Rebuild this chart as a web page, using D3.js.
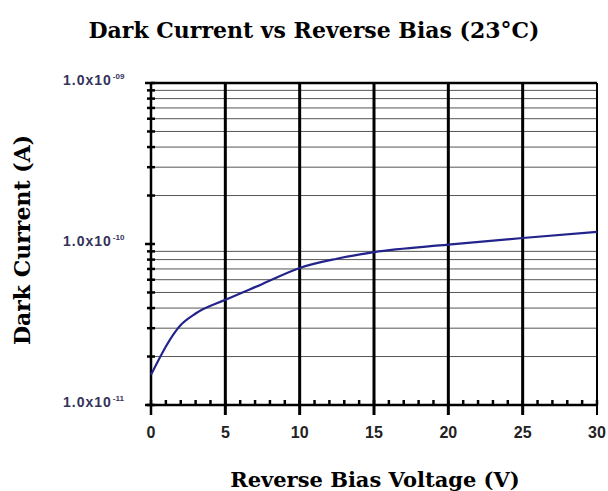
<!DOCTYPE html>
<meta charset="utf-8">
<style>
body { margin: 0; background: #fff; }
.title { font: bold 22px "DejaVu Serif", serif; }
.axlabel { font: bold 21px "DejaVu Serif", serif; }
.xtick text { font: bold 16px "Liberation Sans", Arial, sans-serif; fill: #222; }
.ytick text { font: bold 14px "Liberation Sans", Arial, sans-serif; fill: #33335a; letter-spacing: 1px; }
</style>
<svg width="608" height="491"></svg>
<script src="https://d3js.org/d3.v7.min.js"></script>
<script>

// bias voltage (V) and dark current (A)
var voltage = [0, 2, 3, 5, 7.5, 10, 12.5, 15, 20, 25, 30];
var current = [1.54e-11, 3.14e-11, 3.7e-11, 4.5e-11, 5.65e-11, 7.1e-11, 8.1e-11, 8.9e-11, 9.9e-11, 1.09e-10, 1.19e-10];

var xMajor = [0, 5, 10, 15, 20, 25, 30];
var yMajor = [1e-11, 1e-10, 1e-9];
var yLabels = ["-11", "-10", "-09"];

var svg = d3.select("svg"),
    margin = {top: 83, right: 11, bottom: 86, left: 151},
    width = +svg.attr("width") - margin.left - margin.right,
    height = +svg.attr("height") - margin.top - margin.bottom,
    g = svg.append("g").attr("transform", "translate(" + margin.left + "," + margin.top + ")");

var x = d3.scaleLinear().domain([0, 30]).range([0, width]);
var y = d3.scaleLog().domain([1e-11, 1e-9]).range([height, 0]);

// minor log values 2..9 in each decade
var yMinor = [];
[1e-11, 1e-10].forEach(function(d) {
  for (var k = 2; k <= 9; k++) yMinor.push(d * k);
});

// horizontal grid
g.selectAll(".hgrid")
  .data(yMinor)
  .enter().append("line")
    .attr("class", "hgrid")
    .attr("x1", 0).attr("x2", width)
    .attr("y1", function(d) { return y(d); })
    .attr("y2", function(d) { return y(d); })
    .attr("stroke", "#555")
    .attr("stroke-width", 1);

// vertical grid (thick)
g.selectAll(".vgrid")
  .data(xMajor.slice(1))
  .enter().append("line")
    .attr("class", "vgrid")
    .attr("x1", function(d) { return x(d); })
    .attr("x2", function(d) { return x(d); })
    .attr("y1", 0).attr("y2", height + 10)
    .attr("stroke", "#000")
    .attr("stroke-width", function(d) { return d == 30 ? 2 : 3; });

// top border
g.append("line")
  .attr("x1", 0).attr("x2", width)
  .attr("y1", 0).attr("y2", 0)
  .attr("stroke", "#000").attr("stroke-width", 2.5);

// x axis with integer minor ticks
var xAxis = g.append("g")
    .attr("class", "xtick")
    .attr("transform", "translate(0," + height + ")");

xAxis.selectAll(".minor")
  .data(d3.range(0, 31))
  .enter().append("line")
    .attr("x1", function(d) { return x(d); })
    .attr("x2", function(d) { return x(d); })
    .attr("y1", -5).attr("y2", 0)
    .attr("stroke", "#000").attr("stroke-width", 2.5);

xAxis.append("line")
  .attr("x1", -4).attr("x2", width)
  .attr("stroke", "#000").attr("stroke-width", 2.5);

xAxis.selectAll("text")
  .data(xMajor)
  .enter().append("text")
    .attr("x", function(d) { return x(d); })
    .attr("y", 33)
    .attr("text-anchor", "middle")
    .text(function(d) { return d; });

// y axis
var yAxis = g.append("g").attr("class", "ytick");

yAxis.append("line")
  .attr("x1", 0).attr("x2", 0)
  .attr("y1", 0).attr("y2", height + 10)
  .attr("stroke", "#000").attr("stroke-width", 2.5);

yAxis.selectAll(".minor")
  .data(yMinor)
  .enter().append("line")
    .attr("x1", -4).attr("x2", 4)
    .attr("y1", function(d) { return y(d); })
    .attr("y2", function(d) { return y(d); })
    .attr("stroke", "#000").attr("stroke-width", 2.5);

yAxis.selectAll(".major")
  .data(yMajor)
  .enter().append("line")
    .attr("x1", -6).attr("x2", 4)
    .attr("y1", function(d) { return y(d); })
    .attr("y2", function(d) { return y(d); })
    .attr("stroke", "#000").attr("stroke-width", 2.5);

var yt = yAxis.selectAll(".lab")
  .data(yMajor)
  .enter().append("text")
    .attr("x", -88)
    .attr("y", function(d) { return y(d) + 2; });
yt.append("tspan").text("1.0x10");
yt.append("tspan")
  .attr("dy", -6)
  .attr("dx", 1)
  .style("font-size", "8px")
  .style("letter-spacing", "0px")
  .text(function(d, i) { return yLabels[i]; });

// curve
var line = d3.line()
    .x(function(d) { return x(d[0]); })
    .y(function(d) { return y(d[1]); })
    .curve(d3.curveMonotoneX);

g.append("path")
  .datum(voltage.map(function(v, i) { return [v, current[i]]; }))
  .attr("fill", "none")
  .attr("stroke", "#23238c")
  .attr("stroke-width", 2.2)
  .attr("d", line);

// titles
svg.append("text")
  .attr("class", "title")
  .attr("x", 314).attr("y", 38)
  .attr("text-anchor", "middle")
  .text("Dark Current vs Reverse Bias (23\u00b0C)");

svg.append("text")
  .attr("class", "axlabel")
  .attr("x", 375).attr("y", 487)
  .attr("text-anchor", "middle")
  .text("Reverse Bias Voltage (V)");

svg.append("text")
  .attr("class", "axlabel")
  .attr("transform", "translate(30,240) rotate(-90)")
  .attr("text-anchor", "middle")
  .style("font-size", "22px")
  .text("Dark Current (A)");

</script>
